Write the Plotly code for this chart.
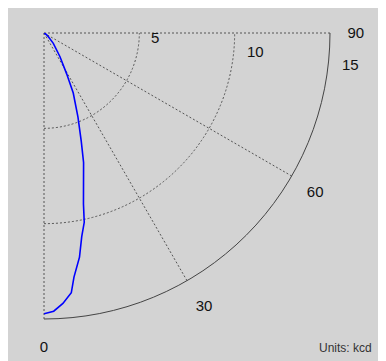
import plotly.graph_objects as go

# luminous intensity (kcd) against angle from nadir (deg)
angles = [0, 2, 4, 6, 7, 9, 10.5, 12, 13, 17, 19, 22, 26, 29, 34, 42, 50, 60, 90]
intensity = [14.73, 14.6, 14.22, 13.7, 12.9, 11.9, 10.86, 10.15, 9.2, 7.1, 6.0, 4.75, 3.5, 2.45, 1.5, 0.73, 0.3, 0.1, 0.0]

angle_ticks = [0, 30, 60, 90]
radial_ticks = [5, 10, 15]
units_label = "Units: kcd"

# page body keeps an 8px margin, so the figure is a bit smaller than the shot
W, H = 378, 353
BG = "#d3d3d3"
GRID = "#555555"
DASH = "2px,2px"
R_MAX = 15
R_FRAME = 15.5  # frame polar runs a bit past 15 so its ring at 15 is drawn


def px(x, y):
    return x / W, 1 - y / H


fig = go.Figure()
fig.add_trace(
    go.Scatterpolar(
        r=intensity,
        theta=angles,
        mode="lines",
        line=dict(color="#0000ff", width=1.6),
        showlegend=False,
        hoverinfo="skip",
    )
)
# invisible point so the second (frame) polar gets drawn
fig.add_trace(
    go.Scatterpolar(
        r=[0], theta=[0], subplot="polar2", mode="markers",
        marker=dict(size=1, opacity=0), showlegend=False, hoverinfo="skip",
    )
)

# radial value labels beside the rings
label_pos = [(147, 30), (247, 43), (342, 56)]
for val, (lx, ly) in zip(radial_ticks, label_pos):
    ax_, ay_ = px(lx, ly)
    fig.add_annotation(
        x=ax_, y=ay_, xref="paper", yref="paper", text=str(val), showarrow=False,
        xanchor="center", yanchor="middle", font=dict(size=15, color="#111"),
    )

ux, uy = px(366, 340)
fig.add_annotation(
    x=ux, y=uy, xref="paper", yref="paper", text=units_label, showarrow=False,
    xanchor="right", yanchor="middle", font=dict(size=12, color="#333"),
)

ox, oy, rad = 36, 25, 286
x0, y1 = px(ox, oy)
x1, y0 = px(ox + rad, oy + rad)
dom = dict(x=[x0, x1], y=[y0, y1])
rad2 = rad * R_FRAME / R_MAX
fx1, fy0 = px(ox + rad2, oy + rad2)
dom2 = dict(x=[x0, fx1], y=[fy0, y1])

fig.update_layout(
    width=W,
    height=H,
    margin=dict(l=0, r=0, t=0, b=0),
    paper_bgcolor=BG,
    font=dict(family="Arial, Liberation Sans, sans-serif", color="#111"),
    polar=dict(
        domain=dom,
        sector=[-90, 0],
        bgcolor="rgba(0,0,0,0)",
        angularaxis=dict(
            rotation=270,
            direction="counterclockwise",
            tickmode="array",
            tickvals=angle_ticks,
            ticktext=[str(a) for a in angle_ticks],
            showline=False,
            showgrid=True,
            gridcolor=GRID,
            gridwidth=1,
            griddash=DASH,
            ticks="outside",
            ticklen=14,
            tickcolor="rgba(0,0,0,0)",
            tickfont=dict(size=15, color="#111"),
        ),
        radialaxis=dict(
            range=[0, R_MAX],
            tickvals=radial_ticks[:2],
            showticklabels=False,
            showline=False,
            ticks="",
            angle=0,
            showgrid=True,
            gridcolor=GRID,
            gridwidth=1,
            griddash=DASH,
        ),
    ),
    polar2=dict(
        domain=dom2,
        sector=[-90, 0],
        bgcolor="rgba(0,0,0,0)",
        angularaxis=dict(
            rotation=270,
            direction="counterclockwise",
            showline=False,
            showgrid=False,
            showticklabels=False,
            ticks="",
        ),
        radialaxis=dict(
            range=[0, R_FRAME],
            tickvals=[R_MAX],
            showticklabels=False,
            showline=False,
            ticks="",
            showgrid=True,
            gridcolor="#444",
            gridwidth=1,
        ),
    ),
)

fig.write_html("out.html")
